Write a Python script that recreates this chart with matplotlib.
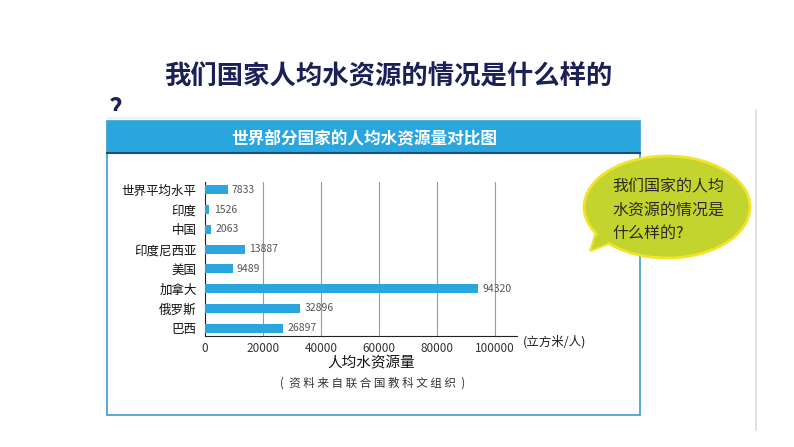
import matplotlib
matplotlib.use("Agg")
import matplotlib.pyplot as plt
from matplotlib.patches import Rectangle, Ellipse, Polygon

plt.rcParams['font.family'] = ['Noto Sans CJK SC', 'DejaVu Sans']

# 数据
countries = ["世界平均水平", "印度", "中国", "印度尼西亚", "美国", "加拿大", "俄罗斯", "巴西"]
water = [7833, 1526, 2063, 13887, 9489, 94320, 32896, 26897]
x_ticks = [0, 20000, 40000, 60000, 80000, 100000]

W, H = 794, 447
fig = plt.figure(figsize=(W / 100, H / 100), dpi=100)

# 背景层（像素坐标）
bg = fig.add_axes([0, 0, 1, 1])
bg.set_xlim(0, W)
bg.set_ylim(H, 0)
bg.axis("off")

bar_blue = "#29a6de"

# 标题
bg.text(388, 77, "我们国家人均水资源的情况是什么样的", fontsize=19, fontweight="heavy",
        color="#1b2157", ha="center", va="center")
bg.text(116, 110, "?", fontsize=19, fontweight="heavy", color="#1b2157",
        ha="center", va="center")
bg.add_patch(Rectangle((100, 111), 60, 12, facecolor="white", edgecolor="none", zorder=3))
bg.plot([108, 640], [118, 118], color="#e3f3fb", lw=1.2, zorder=4)

# 图片框
bg.add_patch(Rectangle((107, 121), 533, 294, facecolor="white", edgecolor="#3b9bd2", lw=1.2, zorder=4))
bg.add_patch(Rectangle((107, 121), 533, 31, facecolor=bar_blue, edgecolor="none", zorder=5))
bg.plot([107, 640], [153, 153], color="#1d4d70", lw=1.5, zorder=6)
bg.text(364, 139, "世界部分国家的人均水资源量对比图", fontsize=12, fontweight="bold",
        color="white", ha="center", va="center", zorder=7)

bg.text(327, 363, "人均水资源量", fontsize=10.5, color="#111111", ha="left", va="center", zorder=7)
bg.text(373, 383, "(  资 料 来 自 联 合 国 教 科 文 组 织  )", fontsize=8.3, color="#333333",
        ha="center", va="center", zorder=7)
bg.text(523, 342, "(立方米/人)", fontsize=9, color="#222222", ha="left", va="center", zorder=7)

# 右侧竖线
bg.plot([756, 756], [110, 430], color="#dcdcdc", lw=1.2, zorder=2)

# 对话气泡
bubble_fill = "#c4d42e"
bubble_edge = "#f0e52a"
bg.add_patch(Polygon([(596, 232), (611, 243), (590, 251)], closed=True,
                     facecolor=bubble_fill, edgecolor=bubble_edge, lw=1.5, zorder=8))
bg.add_patch(Ellipse((667, 207), 166, 102, facecolor=bubble_fill, edgecolor=bubble_edge,
                     lw=2, zorder=9))
bg.add_patch(Polygon([(598, 234), (609, 242), (593, 249)], closed=True,
                     facecolor=bubble_fill, edgecolor="none", zorder=10))
for i, line in enumerate(["我们国家的人均", "水资源的情况是", "什么样的?"]):
    bg.text(612, 187 + i * 23, line, fontsize=11.5, color="#2a2a2a",
            ha="left", va="center", zorder=11)

# 条形图
ax = fig.add_axes([205 / W, 1 - 336 / H, (517 - 205) / W, (336 - 182) / H], zorder=12)
ax.patch.set_alpha(0)
ypos = list(range(len(countries)))
ax.barh(ypos, water, height=0.45, color=bar_blue, zorder=3)
for y, v in zip(ypos, water):
    ax.annotate(str(v), (v, y), xytext=(3, 0), textcoords="offset points",
                fontsize=7.5, color="#555555", va="center", ha="left")
ax.set_yticks(ypos)
ax.set_yticklabels(countries, fontsize=9, color="#111111")
ax.set_ylim(len(countries) - 0.6, -0.4)
ax.set_xlim(0, 107600)
ax.set_xticks(x_ticks)
ax.set_xticklabels([str(t) for t in x_ticks], fontsize=8.5, color="#333333")
ax.tick_params(length=0)
ax.tick_params(axis="y", pad=6)
ax.tick_params(axis="x", pad=4)
ax.grid(axis="x", color="#9a9a9a", lw=0.8, zorder=0)
for s in ["top", "right"]:
    ax.spines[s].set_visible(False)
ax.spines["left"].set_color("#222222")
ax.spines["bottom"].set_color("#222222")

fig.savefig("out.png", dpi=100)
